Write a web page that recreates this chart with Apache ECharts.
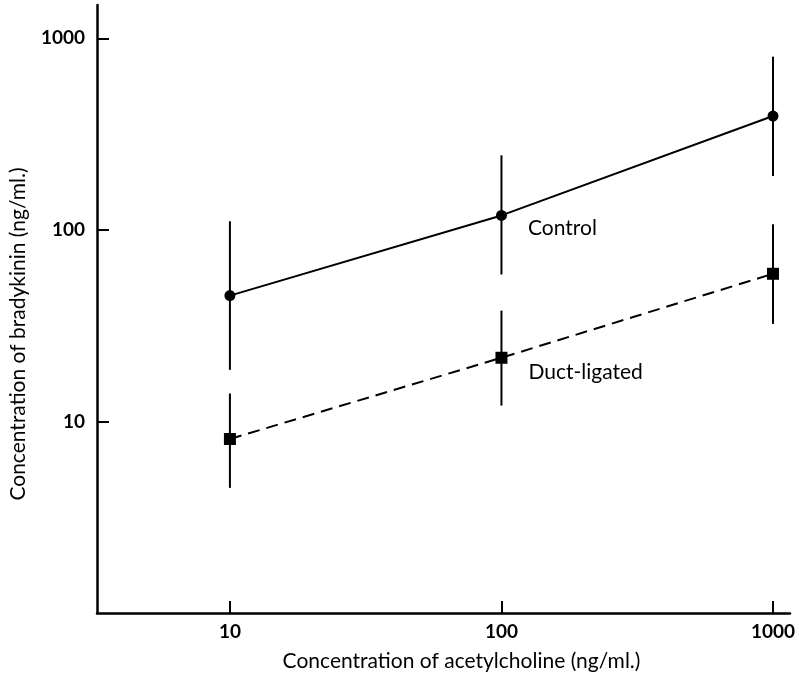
<!DOCTYPE html>
<html>
<head>
<meta charset="utf-8">
<script src="https://cdn.jsdelivr.net/npm/echarts@6/dist/echarts.min.js"></script>
<style>
  html, body { margin: 0; padding: 0; background: #fff; }
  #chart { width: 799px; height: 677px; }
</style>
</head>
<body>
<div id="chart"></div>
<script>
// acetylcholine doses (ng/ml.)
const doses = [10, 100, 1000];
const tickValues = [10, 100, 1000];

// bradykinin (ng/ml.) - mean, upper and lower end of the bars
const controlMean = [45.4, 119, 393];
const controlHigh = [111, 245, 802];
const controlLow = [18.6, 58.5, 191];

const ductMean = [8.1, 21.5, 59];
const ductHigh = [14.0, 37.9, 107];
const ductLow = [4.5, 12.1, 32.3];

const font = 'Lato, "Open Sans", sans-serif';

function errorSeries(high, low) {
  return {
    type: 'custom',
    silent: true,
    z: 1,
    data: doses.map((d, i) => [d, low[i], high[i]]),
    renderItem(params, api) {
      const top = api.coord([api.value(0), api.value(2)]);
      const bot = api.coord([api.value(0), api.value(1)]);
      return {
        type: 'line',
        shape: { x1: top[0], y1: top[1], x2: bot[0], y2: bot[1] },
        style: { stroke: '#000', lineWidth: 2 }
      };
    }
  };
}

const chart = echarts.init(document.getElementById('chart'));
chart.setOption({
  animation: false,
  backgroundColor: '#fff',
  grid: { left: 97, right: 9, top: 5, bottom: 64 },
  xAxis: {
    type: 'log',
    min: 3.24,
    max: 1155,
    name: 'Concentration of acetylcholine (ng/ml.)',
    nameLocation: 'middle',
    nameGap: 38,
    nameTextStyle: { fontFamily: font, fontSize: 21, color: '#000', padding: [0, 0, 0, 36] },
    axisLine: { onZero: false, lineStyle: { color: '#000', width: 2.5 } },
    axisTick: { inside: true, length: 12, customValues: tickValues, lineStyle: { color: '#000', width: 2 } },
    axisLabel: {
      customValues: tickValues, margin: 9, fontFamily: font, fontSize: 19, fontWeight: 'bold', color: '#000',
      formatter: v => String(v)
    },
    splitLine: { show: false }
  },
  yAxis: {
    type: 'log',
    min: 1,
    max: 1493,
    name: 'Concentration of bradykinin (ng/ml.)',
    nameLocation: 'middle',
    nameGap: 68,
    nameTextStyle: { fontFamily: font, fontSize: 21, color: '#000', padding: [0, 50, 0, 0] },
    axisLine: { lineStyle: { color: '#000', width: 2.5 } },
    axisTick: { inside: true, length: 12, customValues: tickValues, lineStyle: { color: '#000', width: 2 } },
    axisLabel: {
      customValues: tickValues, margin: 12, fontFamily: font, fontSize: 19, fontWeight: 'bold', color: '#000',
      formatter: v => String(v)
    },
    splitLine: { show: false }
  },
  series: [
    errorSeries(controlHigh, controlLow),
    errorSeries(ductHigh, ductLow),
    {
      name: 'Control',
      type: 'line',
      z: 3,
      data: doses.map((d, i) => [d, controlMean[i]]),
      symbol: 'circle',
      symbolSize: 11,
      itemStyle: { color: '#000' },
      lineStyle: { color: '#000', width: 2 },
      label: {
        show: true,
        position: 'right',
        offset: [16, 13],
        fontFamily: font,
        fontSize: 21,
        color: '#000',
        formatter: p => (p.dataIndex === 1 ? p.seriesName : '')
      }
    },
    {
      name: 'Duct-ligated',
      type: 'line',
      z: 3,
      data: doses.map((d, i) => [d, ductMean[i]]),
      symbol: 'rect',
      symbolSize: 12,
      itemStyle: { color: '#000' },
      lineStyle: { color: '#000', width: 2, type: [12, 7] },
      label: {
        show: true,
        position: 'right',
        offset: [16, 14],
        fontFamily: font,
        fontSize: 21,
        color: '#000',
        formatter: p => (p.dataIndex === 1 ? p.seriesName : '')
      }
    }
  ]
});
</script>
</body>
</html>
